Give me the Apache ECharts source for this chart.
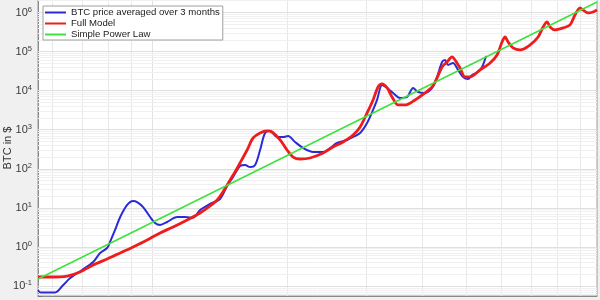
<!DOCTYPE html>
<html><head><meta charset="utf-8">
<script src="https://cdn.jsdelivr.net/npm/echarts@6/dist/echarts.min.js"></script>
<style>html,body{margin:0;padding:0;background:#f0f0f0;}#c{width:600px;height:300px;}</style>
</head><body><div id="c"></div>
<script>
// x: months (log scale), y: BTC price in $ (log scale)
const btcPoints = [[55.7,0.078],[56.5,0.068],[60.8,0.068],[63.4,0.106],[65.7,0.160],[69.8,0.257],[73.9,0.411],[76.6,0.70],[79.4,0.94],[80.6,1.34],[82.7,2.72],[84.9,5.83],[88.0,11.9],[90.7,15.0],[92.6,14.1],[95.5,10.5],[99.0,5.83],[101.5,4.10],[104.2,3.65],[108.0,4.35],[113.7,5.83],[118.5,5.83],[123.4,5.6],[127.9,8.8],[134.6,12.6],[141.7,16.9],[146.9,36.3],[151.5,61.7],[157.0,118],[161.1,125],[165.3,111],[169.6,125],[174.0,303],[178.5,826],[183.2,929],[189.8,652],[195.7,652],[200.9,692],[208.2,485],[216.9,341],[228.4,269],[240.4,269],[249.2,341],[258.2,458],[271.8,547],[280.4,652],[290.6,826],[301.2,1489],[310.6,3206],[317.0,5780],[325.3,14000],[333.8,11720],[344.2,8730],[356.7,6500],[369.8,6890],[381.4,11720],[391.3,9250],[405.5,8730],[420.4,11720],[431.3,22400],[442.5,54200],[449.4,61000],[456.3,45500],[468.2,51200],[480.3,33900],[492.8,22400],[505.6,19900],[516.0,25200],[532.2,30100],[543.3,40400],[554.6,77300]];
const modelPoints = [[55.7,0.170],[59.3,0.170],[64.7,0.180],[69.1,0.228],[73.9,0.345],[79.4,0.491],[84.9,0.70],[90.7,1.0],[97.5,1.51],[104.2,2.28],[111.4,3.24],[119.7,4.90],[127.9,7.39],[134.6,11.2],[139.6,15.9],[144.7,28.7],[149.2,51.7],[153.0,82.8],[157.0,141],[162.8,303],[167.9,615],[174.0,826],[180.3,929],[185.0,875],[192.8,547],[199.8,303],[206.1,200],[213.6,178],[224.8,189],[240.4,254],[252.9,362],[266.3,485],[280.4,734],[290.6,1175],[301.2,2685],[310.6,5780],[318.7,12420],[325.3,14830],[333.8,11720],[342.4,6890],[353.0,4300],[365.9,4300],[385.3,5780],[405.5,8730],[420.4,12420],[431.3,21100],[442.5,40400],[454.0,54200],[465.6,72800],[472.9,61000],[485.2,38100],[497.8,22400],[510.9,22400],[537.7,33900],[565.9,51200],[586.6,82000],[601.9,176000],[611.2,236000],[620.7,176000],[636.8,124000],[660.1,110000],[695.0,148000],[724.1,236000],[742.9,426000],[758.3,573000],[770.0,426000],[789.9,358000],[823.0,403000],[853.1,481000],[874.9,867000],[898.0,1310000],[911.8,1160000],[935.5,975000],[959.6,1030000],[979.5,1160000]];
const powerLawPoints = [[55.7,0.151],[100,4.23],[200,219],[400,11400],[979.5,1860000]];
const seriesNames = ['BTC price averaged over 3 months','Full Model','Simple Power Law'];
const xGridValues = [60,70,80,90,100,200,300,400,500,600,700,800,900];
const xMin = 55.7, xMax = 979.5, yMin = 0.0555, yMax = 2.09e6;

const gridLines = [];
xGridValues.forEach(v => gridLines.push({xAxis: v, lineStyle: {color: v === 100 ? '#e2e2e2' : '#e8e8e8'}}));
for (let d = -2; d <= 6; d++) {
  for (let m = 1; m <= 9; m++) {
    const v = m * Math.pow(10, d);
    if (v > yMin && v < yMax) gridLines.push({yAxis: v, lineStyle: {color: m === 1 ? '#e0e0e0' : '#f0f0f0'}});
  }
}

const chart = echarts.init(document.getElementById('c'), null, {renderer: 'canvas'});
chart.setOption({
  animation: false,
  backgroundColor: '#f0f0f0',
  grid: {left: 38, right: 3, top: 0, bottom: 4, containLabel: false, outerBoundsMode: 'none',
         show: true, backgroundColor: '#ffffff', borderColor: '#9a9a9a', borderWidth: 1},
  legend: {
    orient: 'vertical', left: 43, top: 6, padding: [1, 3, 0, 2], itemGap: 0, z: 20,
    itemWidth: 21, itemHeight: 2, itemTextGap: 2,
    backgroundColor: '#ffffff', borderColor: '#a0a0a0', borderWidth: 1, borderRadius: 0,
    textStyle: {fontFamily: 'Liberation Sans, Arial, sans-serif', fontSize: 9.6, lineHeight: 11, color: '#222'},
    data: seriesNames.map(n => ({name: n, icon: 'rect'}))
  },
  xAxis: {
    type: 'log', logBase: 10, min: xMin, max: xMax,
    axisLabel: {show: false}, axisTick: {show: false}, splitLine: {show: false}, minorSplitLine: {show: false},
    axisLine: {show: true, lineStyle: {color: '#8a8a8a'}}
  },
  yAxis: {
    type: 'log', logBase: 10, min: yMin, max: yMax, splitNumber: 8,
    name: 'BTC in $', nameLocation: 'middle', nameRotate: 90, nameGap: 25, nameMoveOverlap: false,
    nameTextStyle: {fontFamily: 'Liberation Sans, Arial, sans-serif', fontSize: 11, color: '#333'},
    axisLine: {show: true, lineStyle: {color: '#8a8a8a'}},
    axisTick: {show: true, inside: true, length: 4, lineStyle: {color: '#777'}},
    splitLine: {show: false},
    axisLabel: {
      margin: 6, hideOverlap: false, align: 'right', verticalAlign: 'middle',
      formatter: v => {
        const e = Math.log10(v);
        if (Math.abs(e - Math.round(e)) > 0.01) return '';
        return '{b|10}{s|' + Math.round(e) + '}';
      },
      rich: {
        b: {fontFamily: 'Liberation Sans, Arial, sans-serif', fontSize: 11, color: '#3a3a3a', lineHeight: 14},
        s: {fontFamily: 'Liberation Sans, Arial, sans-serif', fontSize: 7.5, color: '#3a3a3a', verticalAlign: 'top', lineHeight: 8}
      }
    }
  },
  series: [
    {type: 'line', name: 'gridlines', data: [], z: 1, silent: true,
     markLine: {silent: true, z: 1, symbol: ['none', 'none'], label: {show: false}, animation: false,
       lineStyle: {type: 'solid', width: 1}, data: gridLines}},
    {type: 'line', name: seriesNames[0], data: btcPoints, showSymbol: false, smooth: 0.3, z: 3,
     color: '#2b2bd6', lineStyle: {width: 2, color: '#2b2bd6'}},
    {type: 'line', name: seriesNames[1], data: modelPoints, showSymbol: false, smooth: 0.3, z: 4,
     color: '#ee1c1c', lineStyle: {width: 2.8, color: '#ee1c1c'}},
    {type: 'line', name: seriesNames[2], data: powerLawPoints, showSymbol: false, z: 5,
     color: '#3ee23e', lineStyle: {width: 1.6, color: '#3ee23e'}}
  ]
});
</script></body></html>
